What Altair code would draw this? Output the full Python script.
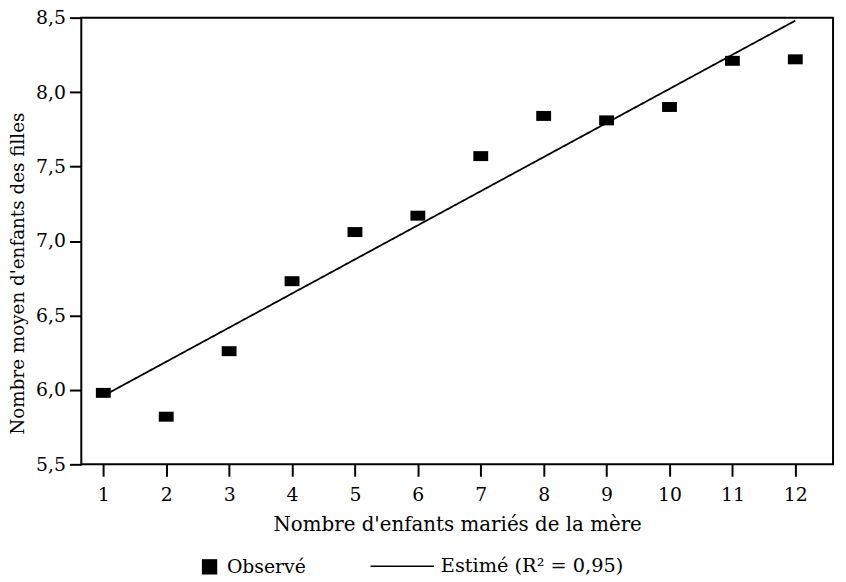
import altair as alt
import pandas as pd

# Observed data
x_obs = [1, 2, 3, 4, 5, 6, 7, 8, 9, 10, 11, 12]
y_obs = [5.98, 5.82, 6.26, 6.73, 7.06, 7.17, 7.57, 7.84, 7.81, 7.90, 8.21, 8.22]

# Estimated regression line (end points)
x_est = [1, 12]
y_est = [5.96, 8.48]

obs_label = "Observé"
est_label = "Estimé (R² = 0,95)"

x_ticks = [1, 2, 3, 4, 5, 6, 7, 8, 9, 10, 11, 12]
y_ticks = [5.5, 6.0, 6.5, 7.0, 7.5, 8.0, 8.5]

df_obs = pd.DataFrame({"x": x_obs, "y": y_obs, "s": obs_label})
df_est = pd.DataFrame({"x": x_est, "y": y_est, "s": est_label})

FONT = "DejaVu Serif"

xscale = alt.Scale(domain=[0.65, 12.6], nice=False, zero=False)
yscale = alt.Scale(domain=[5.5, 8.5], nice=False, zero=False)

xaxis = alt.Axis(values=x_ticks, title="Nombre d'enfants mariés de la mère", format="d",
                 labelFontSize=19, titleFontSize=20, tickSize=12, labelPadding=10,
                 titlePadding=10, grid=False, domain=False)
yaxis = alt.Axis(values=y_ticks, title="Nombre moyen d'enfants des filles",
                 labelExpr="replace(format(datum.value, '.1f'), '.', ',')",
                 labelFontSize=19, titleFontSize=18.5, tickSize=12, labelPadding=4,
                 titlePadding=8, titleY=258, titleAlign="center",
                 grid=False, domain=False)

rect_path = "M-1,-0.67L1,-0.67L1,0.67L-1,0.67Z"

points = alt.Chart(df_obs).mark_point(
    shape=rect_path, filled=True, size=225, opacity=1
).encode(
    x=alt.X("x:Q", scale=xscale, axis=xaxis),
    y=alt.Y("y:Q", scale=yscale, axis=yaxis),
    color=alt.Color("s:N", scale=alt.Scale(domain=[obs_label], range=["black"]),
                    legend=alt.Legend(title=None, orient="none", legendX=120, legendY=545,
                                      symbolType="square", symbolSize=240,
                                      symbolFillColor="black", symbolStrokeWidth=0,
                                      labelFontSize=19, labelFont=FONT, labelColor="black",
                                      labelOffset=8, padding=0)),
)

line = alt.Chart(df_est).mark_line(color="black", strokeWidth=1.8).encode(
    x=alt.X("x:Q", scale=xscale),
    y=alt.Y("y:Q", scale=yscale),
    strokeDash=alt.StrokeDash("s:N", scale=alt.Scale(domain=[est_label], range=[[1, 0]]),
                              legend=alt.Legend(title=None, orient="none", legendX=291, legendY=521,
                                                symbolType="stroke", symbolSize=4096,
                                                symbolStrokeColor="black", symbolStrokeWidth=1.5,
                                                labelFontSize=19.5, labelFont=FONT, labelColor="black",
                                                labelOffset=6, labelLimit=400, padding=0)),
)

chart = alt.layer(points, line).resolve_scale(color="independent").properties(
    width=759, height=451,
    autosize=alt.AutoSizeParams(type="none"),
    padding={"left": 74, "top": 7, "right": 5, "bottom": 110},
    background="white",
).configure_view(
    stroke="black", strokeWidth=2
).configure_axis(
    grid=False, domain=False, tickColor="black", tickWidth=2,
    labelColor="black", titleColor="black", labelFont=FONT, titleFont=FONT,
    titleFontWeight="normal",
)

chart.save("out.html", embed_options={"renderer": "svg", "actions": False})
